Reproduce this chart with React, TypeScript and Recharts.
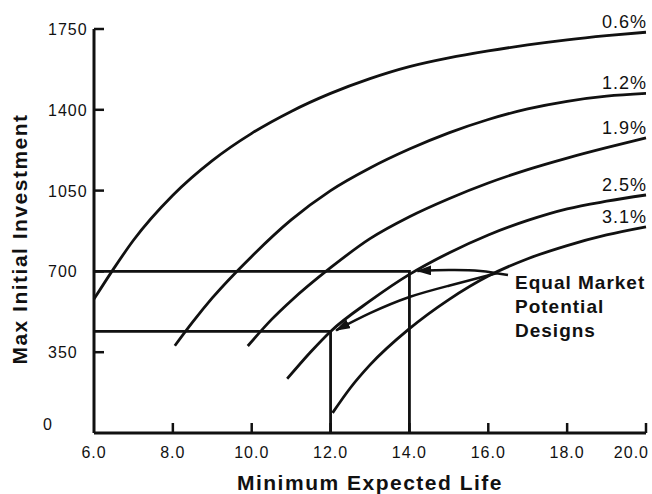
import React from "react";
import { LineChart, Line, XAxis, YAxis, Label } from "recharts";

const FONT = "'Liberation Sans', Arial, Helvetica, sans-serif";
const INK = "#111";

// axis ticks
const lifeTicks = [6, 8, 10, 12, 14, 16, 18, 20];
const investTicks = [0, 350, 700, 1050, 1400, 1750];

// curves: minimum expected life vs max initial investment, one per rate
const rate06Life = [6, 6.5, 7, 8, 9, 10, 11, 12, 13, 14, 15, 16, 17, 18, 19, 20];
const rate06Invest = [580, 712, 835, 1030, 1180, 1298, 1393, 1471, 1535, 1587, 1625, 1655, 1681, 1703, 1721, 1736];

const rate12Life = [8.05, 8.5, 9, 10, 11, 12, 13, 14, 15, 16, 17, 18, 19, 20];
const rate12Invest = [378, 480, 585, 765, 923, 1050, 1148, 1230, 1300, 1358, 1404, 1437, 1459, 1471];

const rate19Life = [9.9, 10.5, 11, 12, 13, 14, 15, 16, 17, 18, 19, 20];
const rate19Invest = [377, 491, 573, 716, 842, 937, 1015, 1083, 1141, 1191, 1236, 1278];

const rate25Life = [10.9, 11.5, 12, 13, 14, 15, 16, 17, 18, 19, 20];
const rate25Invest = [235, 352, 440, 572, 687, 780, 858, 921, 971, 1004, 1031];

const rate31Life = [12.05, 12.5, 13, 14, 15, 16, 17, 18, 19, 20];
const rate31Invest = [87, 195, 295, 452, 578, 680, 755, 812, 858, 893];

// the two equal market potential designs (drop lines to the axes)
const designALife = [6, 14, 14];
const designAInvest = [700, 700, 0];
const designBLife = [6, 12, 12];
const designBInvest = [440, 440, 0];

// annotation arrows, from the label to each design
const arrowALife = [16.5, 15.8, 15.0, 14.2];
const arrowAInvest = [684, 702, 706, 702];
const arrowBLife = [16.23, 15, 14, 13, 12.14];
const arrowBInvest = [693, 638, 589, 519, 445];

const noteLines = ["Equal Market", "Potential", "Designs"];

const zip = (xs: number[], ys: number[]) => xs.map((x, i) => ({ x, y: ys[i] }));

const curves = [
    { name: "0.6%", data: zip(rate06Life, rate06Invest) },
    { name: "1.2%", data: zip(rate12Life, rate12Invest) },
    { name: "1.9%", data: zip(rate19Life, rate19Invest) },
    { name: "2.5%", data: zip(rate25Life, rate25Invest) },
    { name: "3.1%", data: zip(rate31Life, rate31Invest) },
];

function YTick({ x, y, payload }: any) {
    const zero = payload.value === 0;
    return (
        <g>
            {!zero && <line x1={x} y1={y} x2={x + 10} y2={y} stroke={INK} strokeWidth={2.5} />}
            <text
                x={x - (zero ? 51 : 46)}
                y={y + (zero ? -3 : 6)}
                fontFamily={FONT}
                fontSize={16}
                letterSpacing={1}
                fill={INK}
                textAnchor="start"
            >
                {payload.value}
            </text>
        </g>
    );
}

function XTick({ x, y, payload, index }: any) {
    const last = payload.value === lifeTicks[lifeTicks.length - 1];
    return (
        <g>
            {index > 0 && <line x1={x} y1={y} x2={x} y2={y - 10} stroke={INK} strokeWidth={2.5} />}
            <text
                x={last ? x + 3 : x}
                y={y + 25}
                fontFamily={FONT}
                fontSize={16}
                letterSpacing={1}
                fill={INK}
                textAnchor={last ? "end" : "middle"}
            >
                {payload.value.toFixed(1)}
            </text>
        </g>
    );
}

function curveLabel(name: string, lastIndex: number) {
    return (p: any) => {
        if (p.index !== lastIndex) return <g key={`${name}-${p.index}`} />;
        return (
            <text
                key={`${name}-lbl`}
                x={p.cx + 1}
                y={p.cy - 4}
                fontFamily={FONT}
                fontSize={18}
                letterSpacing={1}
                fill={INK}
                textAnchor="end"
            >
                {name}
            </text>
        );
    };
}

function noteDot(p: any) {
    if (p.index !== 0) return <g key={`note-${p.index}`} />;
    return (
        <text key="note" fontFamily={FONT} fontSize={19} fontWeight="bold" letterSpacing={1} fill={INK}>
            {noteLines.map((t, i) => (
                <tspan key={t} x={p.cx + 7} y={p.cy + 14 + i * 24}>
                    {t}
                </tspan>
            ))}
        </text>
    );
}

export default function App() {
    return (
        <div style={{ width: 652, height: 494 }}>
            <style>{"body{margin:0;}"}</style>
            <svg width={0} height={0} style={{ position: "absolute" }}>
                <defs>
                    <marker
                        id="arrowHead"
                        markerUnits="userSpaceOnUse"
                        markerWidth={15}
                        markerHeight={10}
                        refX={14}
                        refY={5}
                        orient="auto"
                    >
                        <path d="M0,0 L15,5 L0,10 Z" fill={INK} />
                    </marker>
                </defs>
            </svg>
            <LineChart width={652} height={494} margin={{ top: 29, right: 6, bottom: 0, left: 0 }}>
                <XAxis
                    type="number"
                    dataKey="x"
                    domain={[6, 20]}
                    ticks={lifeTicks}
                    interval={0}
                    height={61}
                    tickSize={0}
                    tickMargin={0}
                    tickLine={false}
                    tick={<XTick />}
                    axisLine={{ stroke: INK, strokeWidth: 3 }}
                >
                    <Label
                        content={(props: any) => {
                            const vb = props.viewBox;
                            return (
                                <text
                                    x={vb.x + vb.width / 2}
                                    y={vb.y + 57}
                                    textAnchor="middle"
                                    fontFamily={FONT}
                                    fontSize={21}
                                    fontWeight="bold"
                                    letterSpacing={1.5}
                                    fill={INK}
                                >
                                    Minimum Expected Life
                                </text>
                            );
                        }}
                    />
                </XAxis>
                <YAxis
                    type="number"
                    dataKey="y"
                    domain={[0, 1750]}
                    ticks={investTicks}
                    interval={0}
                    width={94}
                    tickSize={0}
                    tickMargin={0}
                    tickLine={false}
                    tick={<YTick />}
                    axisLine={{ stroke: INK, strokeWidth: 3 }}
                >
                    <Label
                        content={(props: any) => {
                            const vb = props.viewBox;
                            const cx = vb.x + 27;
                            const cy = vb.y + vb.height / 2 + 8;
                            return (
                                <text
                                    x={cx}
                                    y={cy}
                                    transform={`rotate(-90, ${cx}, ${cy})`}
                                    textAnchor="middle"
                                    fontFamily={FONT}
                                    fontSize={21}
                                    fontWeight="bold"
                                    letterSpacing={1.5}
                                    fill={INK}
                                >
                                    Max Initial Investment
                                </text>
                            );
                        }}
                    />
                </YAxis>

                {curves.map((c) => (
                    <Line
                        key={c.name}
                        data={c.data}
                        dataKey="y"
                        type="monotone"
                        stroke={INK}
                        strokeWidth={2.8}
                        dot={curveLabel(c.name, c.data.length - 1)}
                        activeDot={false}
                        isAnimationActive={false}
                    />
                ))}

                <Line
                    data={zip(designALife, designAInvest)}
                    dataKey="y"
                    type="linear"
                    stroke={INK}
                    strokeWidth={2.8}
                    dot={false}
                    activeDot={false}
                    isAnimationActive={false}
                />
                <Line
                    data={zip(designBLife, designBInvest)}
                    dataKey="y"
                    type="linear"
                    stroke={INK}
                    strokeWidth={2.8}
                    dot={false}
                    activeDot={false}
                    isAnimationActive={false}
                />

                <Line
                    data={zip(arrowALife, arrowAInvest)}
                    dataKey="y"
                    type="natural"
                    stroke={INK}
                    strokeWidth={2.5}
                    markerEnd="url(#arrowHead)"
                    dot={noteDot}
                    activeDot={false}
                    isAnimationActive={false}
                />
                <Line
                    data={zip(arrowBLife, arrowBInvest)}
                    dataKey="y"
                    type="natural"
                    stroke={INK}
                    strokeWidth={2.5}
                    markerEnd="url(#arrowHead)"
                    dot={false}
                    activeDot={false}
                    isAnimationActive={false}
                />
            </LineChart>
        </div>
    );
}
